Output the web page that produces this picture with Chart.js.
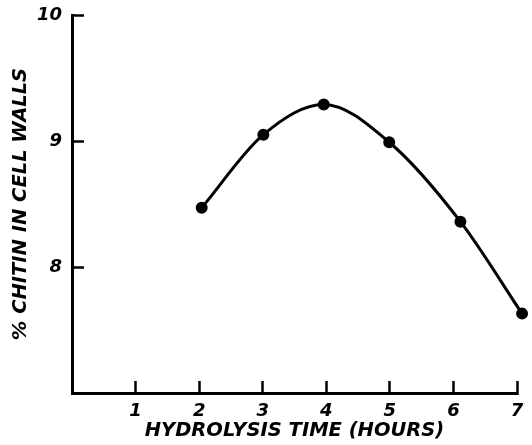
<!DOCTYPE html>
<html>
<head>
<meta charset="utf-8">
<script src="https://cdn.jsdelivr.net/npm/chart.js@4/dist/chart.umd.min.js"></script>
<style>
html,body{margin:0;padding:0;background:#fff;}
#wrap{width:532px;height:445px;}
</style>
</head>
<body>
<div id="wrap"><canvas id="c" width="532" height="445"></canvas></div>
<script>
const hours = [2.04, 3.01, 3.96, 4.99, 6.11, 7.08];
const chitin = [8.47, 9.05, 9.29, 8.99, 8.36, 7.63];
const xTickValues = [1, 2, 3, 4, 5, 6, 7];
const yTickValues = [8, 9, 10];
const xTitle = 'HYDROLYSIS TIME (HOURS)';
const yTitle = '% CHITIN IN CELL WALLS';

const points = hours.map((h, i) => ({x: h, y: chitin[i]}));
const fontFam = '"DejaVu Sans", sans-serif';

new Chart(document.getElementById('c'), {
  type: 'scatter',
  data: {
    datasets: [{
      data: points,
      showLine: true,
      borderColor: '#000',
      backgroundColor: '#000',
      borderWidth: 3,
      pointRadius: 4.5,
      pointHoverRadius: 4.5,
      tension: 0.4,
      cubicInterpolationMode: 'monotone',
      clip: false
    }]
  },
  options: {
    responsive: false,
    animation: false,
    devicePixelRatio: 1,
    layout: {padding: {left: 0, right: 15, top: 15, bottom: 0}},
    plugins: {legend: {display: false}, tooltip: {enabled: false}},
    scales: {
      x: {
        type: 'linear',
        min: 0, max: 7,
        afterBuildTicks: s => { s.ticks = xTickValues.map(v => ({value: v})); },
        afterFit: s => { s.height = 52; s.paddingLeft = 0; s.paddingRight = 0; },
        grid: {drawOnChartArea: false, drawTicks: true, tickLength: -12, tickWidth: 2.5, tickColor: '#000'},
        border: {display: true, color: '#000', width: 3},
        ticks: {color: '#000', padding: 20, maxRotation: 0, font: {family: fontFam, size: 18, style: 'italic', weight: 'bold'}},
        title: {display: true, text: xTitle, color: '#000', padding: {top: 0, bottom: 2}, font: {family: fontFam, size: 19.5, style: 'italic', weight: 'bold'}}
      },
      y: {
        type: 'linear',
        min: 7, max: 10,
        afterBuildTicks: s => { s.ticks = yTickValues.map(v => ({value: v})); },
        afterFit: s => { s.width = 72; s.paddingTop = 0; s.paddingBottom = 0; },
        grid: {drawOnChartArea: false, drawTicks: true, tickLength: -12, tickWidth: 2.5, tickColor: '#000'},
        border: {display: true, color: '#000', width: 3},
        ticks: {color: '#000', padding: 22, font: {family: fontFam, size: 18, style: 'italic', weight: 'bold'}},
        title: {display: true, text: yTitle, color: '#000', padding: {top: 9, bottom: 0}, font: {family: fontFam, size: 19.5, style: 'italic', weight: 'bold'}}
      }
    }
  }
});
</script>
</body>
</html>
